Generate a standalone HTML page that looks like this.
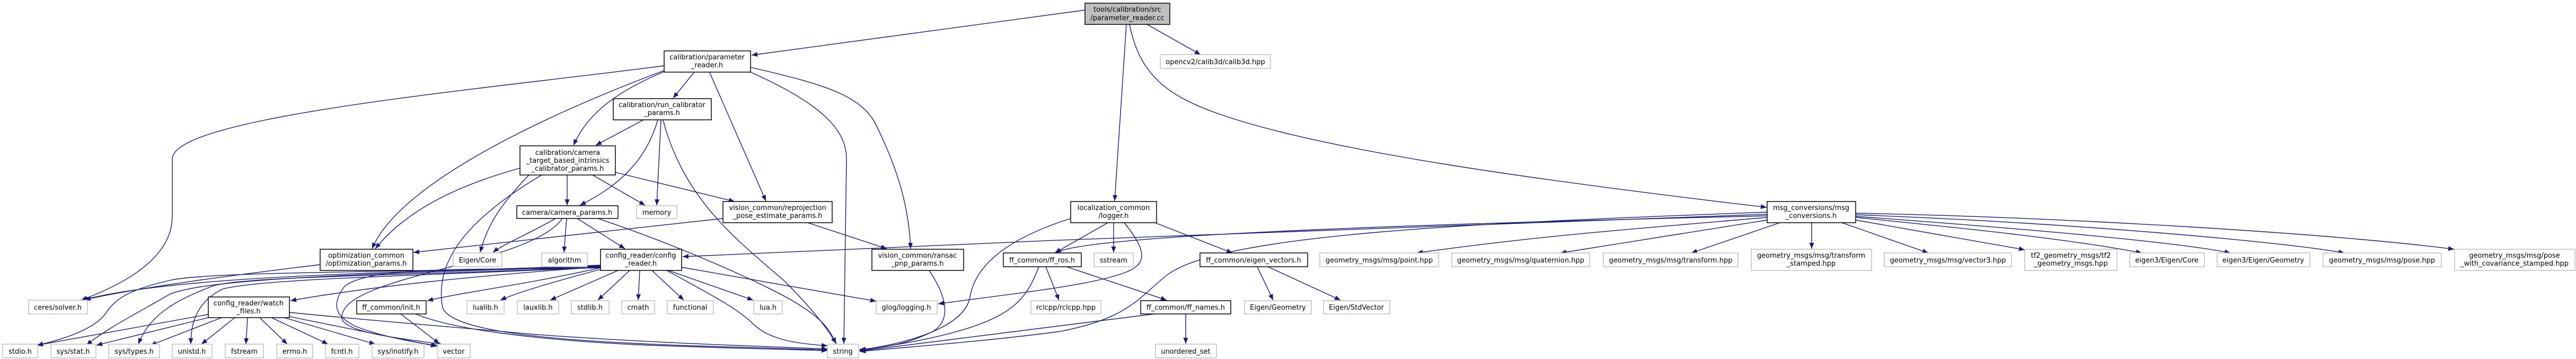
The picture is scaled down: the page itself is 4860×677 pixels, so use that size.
<!DOCTYPE html>
<html><head><meta charset="utf-8"><style>
html,body{margin:0;padding:0;background:#fff;width:4860px;height:677px;overflow:hidden}
svg{display:block}
text{font-family:"DejaVu Sans","Liberation Sans",sans-serif;font-size:13px;fill:#000;text-anchor:middle}
.e{fill:none;stroke:#191970;stroke-width:1.4;marker-end:url(#a)}
.n{fill:#fff;stroke:#000;stroke-width:1.5}
.x{fill:#fff;stroke:#bfbfbf;stroke-width:1.5}
.g{fill:#bfbfbf;stroke:#000;stroke-width:1.5}
</style></head><body>
<svg width="4860" height="677" viewBox="0 0 4860 677" xmlns="http://www.w3.org/2000/svg">
<defs><marker id="a" markerUnits="userSpaceOnUse" markerWidth="12" markerHeight="10" refX="11" refY="4.5" orient="auto"><path d="M0,0 L11,4.5 L0,9 z" fill="#191970"/></marker></defs>
<g>
<!-- P0 -->
<path class="e" d="M2047,19 L1418,104"/>
<path class="e" d="M2164,46 L2265,103"/>
<path class="e" d="M2125,47 L2103,379"/>
<path class="e" d="M2131,46 C2150,140 2200,180 2300,215 C2500,285 2900,340 3333,391"/>
<!-- PR -->
<path class="e" d="M1253,124 C900,170 325,220 325,300 L325,408 C325,480 250,530 153,566"/>
<path class="e" d="M1253,133 C1100,190 760,330 702,469"/>
<path class="e" d="M1253,135 C1170,170 1110,210 1082,274"/>
<path class="e" d="M1309,137 L1270,185"/>
<path class="e" d="M1339,137 L1445,379"/>
<path class="e" d="M1416,136 C1560,200 1597,250 1597,300 L1592,648"/>
<path class="e" d="M1416,127 C1560,160 1620,180 1650,230 C1700,330 1715,400 1718,469"/>
<!-- RC -->
<path class="e" d="M1214,226 L1124,274"/>
<path class="e" d="M1241,226 C1220,300 1170,350 1094,387"/>
<path class="e" d="M1247,226 L1239,387"/>
<path class="e" d="M1251,226 C1290,380 1400,460 1480,530 C1540,590 1560,620 1578,648"/>
<!-- CT -->
<path class="e" d="M981,317 C900,340 780,380 708,469"/>
<path class="e" d="M998,330 C950,380 920,420 906,476"/>
<path class="e" d="M1070,330 L1070,387"/>
<path class="e" d="M1118,330 L1217,387"/>
<path class="e" d="M1161,325 L1386,380"/>
<path class="e" d="M1022,330 C870,420 820,500 835,580 C860,650 1300,650 1561,660"/>
<!-- CP -->
<path class="e" d="M1048,412 C1000,440 950,460 930,476"/>
<path class="e" d="M1069,412 L1064,476"/>
<path class="e" d="M1089,412 L1179,469"/>
<path class="e" d="M1128,412 C1300,470 1450,540 1500,570 C1550,600 1565,620 1577,648"/>
<path class="e" d="M1061,412 C1000,500 640,520 645,600 C650,630 780,640 835,650"/>
<!-- RP -->
<path class="e" d="M1364,412 L780,476"/>
<path class="e" d="M1524,420 L1673,469"/>
<!-- LOG -->
<path class="e" d="M2090,420 L1990,477"/>
<path class="e" d="M2101,420 L2101,476"/>
<path class="e" d="M2179,420 L2325,477"/>
<path class="e" d="M2121,420 C2170,480 2160,500 2120,515 C2050,540 1900,555 1770,573"/>
<path class="e" d="M2020,412 C1900,450 1840,500 1830,560 C1820,620 1700,650 1622,660"/>
<!-- FFR -->
<path class="e" d="M1973,503 L1998,566"/>
<path class="e" d="M2000,499 L2201,566"/>
<path class="e" d="M1960,503 C1930,580 1900,620 1622,661"/>
<path class="e" d="M2178,592 L1622,662"/>
<path class="e" d="M2237,592 L2237,648"/>
<path class="e" d="M2372,503 L2402,566"/>
<path class="e" d="M2392,503 L2529,566"/>
<!-- MSG -->
<path class="e" d="M3334,404 C3000,414 2000,450 1288,484"/>
<path class="e" d="M3334,407 C2800,420 2050,440 1991,477"/>
<path class="e" d="M3334,400 C2800,420 2300,440 2200,520 C2150,560 2130,600 2000,625 C1850,645 1700,655 1622,663"/>
<path class="e" d="M3334,410 C3100,430 2900,445 2673,477"/>
<path class="e" d="M3334,415 L2944,477"/>
<path class="e" d="M3358,420 L3191,477"/>
<path class="e" d="M3418,420 L3418,469"/>
<path class="e" d="M3475,420 L3638,477"/>
<path class="e" d="M3501,415 L3820,471"/>
<path class="e" d="M3501,410 C3700,430 3900,450 4041,477"/>
<path class="e" d="M3501,408 C3800,430 4100,455 4208,477"/>
<path class="e" d="M3501,405 C3900,420 4300,455 4423,477"/>
<path class="e" d="M3501,402 C3900,410 4400,440 4630,470"/>
<!-- CR -->
<path class="e" d="M1166,510 L1038,566"/>
<path class="e" d="M1188,510 L1128,566"/>
<path class="e" d="M1207,510 L1204,566"/>
<path class="e" d="M1230,510 L1290,566"/>
<path class="e" d="M1261,510 L1421,566"/>
<path class="e" d="M1286,504 L1653,568"/>
<path class="e" d="M1258,510 C1330,550 1390,580 1420,610 C1450,640 1500,648 1561,652"/>
<path class="e" d="M1133,508 C1050,530 980,550 944,566"/>
<path class="e" d="M1133,505 C1000,535 880,550 806,567"/>
<path class="e" d="M1133,503 C900,520 700,540 548,567"/>
<path class="e" d="M1133,500 C800,515 350,515 155,566"/>
<path class="e" d="M604,499 C500,512 300,535 160,565"/>
<path class="e" d="M1133,501 C800,515 400,510 319,529 C250,545 220,560 200,590 C180,620 120,640 70,651"/>
<path class="e" d="M1133,502 C800,515 400,520 320,555 C260,590 200,620 163,651"/>
<path class="e" d="M1133,503 C800,520 450,520 400,540 C320,570 280,600 261,649"/>
<path class="e" d="M1133,504 C800,520 500,525 420,545 C370,570 360,610 360,649"/>
<path class="e" d="M1133,505 C900,510 700,500 650,540 C620,580 640,600 670,615 C720,635 780,645 825,652"/>
<!-- WF -->
<path class="e" d="M393,593 L70,651"/>
<path class="e" d="M393,599 L182,651"/>
<path class="e" d="M418,599 L284,651"/>
<path class="e" d="M443,599 L380,649"/>
<path class="e" d="M467,599 L464,649"/>
<path class="e" d="M490,599 L542,649"/>
<path class="e" d="M512,599 L619,649"/>
<path class="e" d="M536,599 L708,649"/>
<path class="e" d="M546,597 L824,653"/>
<path class="e" d="M546,589 C700,605 900,620 1000,630 C1200,645 1400,652 1561,658"/>
<path class="e" d="M756,592 L829,648"/>
<path class="e" d="M784,592 C850,620 1000,640 1200,650 C1350,656 1480,659 1561,661"/>
<path class="e" d="M1753,510 C1780,550 1800,600 1760,625 C1720,645 1680,655 1622,659"/>
</g>
<!-- nodes -->
<g>
<rect class="g" x="2047" y="6" width="160" height="40"/><text x="2127" y="22">tools/calibration/src</text><text x="2127" y="38">/parameter_reader.cc</text>
<rect class="n" x="1253" y="96" width="163" height="40"/><text x="1334" y="112">calibration/parameter</text><text x="1334" y="127">_reader.h</text>
<rect class="x" x="2189" y="103" width="208" height="26"/><text x="2293" y="121">opencv2/calib3d/calib3d.hpp</text>
<rect class="n" x="1157" y="186" width="185" height="40"/><text x="1249" y="202">calibration/run_calibrator</text><text x="1249" y="217">_params.h</text>
<rect class="n" x="981" y="275" width="180" height="55"/><text x="1071" y="292">calibration/camera</text><text x="1071" y="307">_target_based_intrinsics</text><text x="1071" y="322">_calibrator_params.h</text>
<rect class="n" x="975" y="388" width="191" height="24"/><text x="1070" y="405">camera/camera_params.h</text>
<rect class="x" x="1201" y="388" width="76" height="24"/><text x="1239" y="405">memory</text>
<rect class="n" x="1364" y="380" width="206" height="40"/><text x="1467" y="396">vision_common/reprojection</text><text x="1467" y="411">_pose_estimate_params.h</text>
<rect class="n" x="2020" y="380" width="162" height="40"/><text x="2101" y="396">localization_common</text><text x="2101" y="411">/logger.h</text>
<rect class="n" x="3334" y="380" width="167" height="40"/><text x="3417" y="396">msg_conversions/msg</text><text x="3417" y="411">_conversions.h</text>
<rect class="n" x="604" y="470" width="175" height="40"/><text x="691" y="486">optimization_common</text><text x="691" y="501">/optimization_params.h</text>
<rect class="x" x="855" y="477" width="92" height="26"/><text x="901" y="495">Eigen/Core</text>
<rect class="x" x="1022" y="477" width="86" height="26"/><text x="1065" y="495">algorithm</text>
<rect class="n" x="1133" y="470" width="153" height="40"/><text x="1209" y="486">config_reader/config</text><text x="1209" y="501">_reader.h</text>
<rect class="n" x="1645" y="470" width="173" height="40"/><text x="1731" y="486">vision_common/ransac</text><text x="1731" y="501">_pnp_params.h</text>
<rect class="n" x="1893" y="477" width="147" height="26"/><text x="1966" y="495">ff_common/ff_ros.h</text>
<rect class="x" x="2064" y="477" width="74" height="26"/><text x="2101" y="495">sstream</text>
<rect class="n" x="2264" y="477" width="203" height="26"/><text x="2365" y="495">ff_common/eigen_vectors.h</text>
<rect class="x" x="2490" y="477" width="224" height="26"/><text x="2602" y="495">geometry_msgs/msg/point.hpp</text>
<rect class="x" x="2739" y="477" width="260" height="26"/><text x="2869" y="495">geometry_msgs/msg/quaternion.hpp</text>
<rect class="x" x="3025" y="477" width="254" height="26"/><text x="3152" y="495">geometry_msgs/msg/transform.hpp</text>
<rect class="x" x="3304" y="470" width="227" height="40"/><text x="3417" y="486">geometry_msgs/msg/transform</text><text x="3417" y="501">_stamped.hpp</text>
<rect class="x" x="3555" y="477" width="240" height="26"/><text x="3675" y="495">geometry_msgs/msg/vector3.hpp</text>
<rect class="x" x="3820" y="470" width="174" height="40"/><text x="3907" y="486">tf2_geometry_msgs/tf2</text><text x="3907" y="501">_geometry_msgs.hpp</text>
<rect class="x" x="4018" y="477" width="141" height="26"/><text x="4088" y="495">eigen3/Eigen/Core</text>
<rect class="x" x="4183" y="477" width="175" height="26"/><text x="4270" y="495">eigen3/Eigen/Geometry</text>
<rect class="x" x="4383" y="477" width="223" height="26"/><text x="4494" y="495">geometry_msgs/msg/pose.hpp</text>
<rect class="x" x="4631" y="470" width="227" height="40"/><text x="4744" y="486">geometry_msgs/msg/pose</text><text x="4744" y="501">_with_covariance_stamped.hpp</text>
<rect class="x" x="54" y="566" width="111" height="26"/><text x="109" y="584">ceres/solver.h</text>
<rect class="n" x="393" y="560" width="153" height="39"/><text x="469" y="576">config_reader/watch</text><text x="469" y="591">_files.h</text>
<rect class="n" x="673" y="567" width="131" height="25"/><text x="738" y="584">ff_common/init.h</text>
<rect class="x" x="881" y="567" width="70" height="25"/><text x="916" y="584">lualib.h</text>
<rect class="x" x="976" y="567" width="78" height="25"/><text x="1015" y="584">lauxlib.h</text>
<rect class="x" x="1078" y="567" width="71" height="25"/><text x="1113" y="584">stdlib.h</text>
<rect class="x" x="1173" y="567" width="62" height="25"/><text x="1204" y="584">cmath</text>
<rect class="x" x="1259" y="567" width="87" height="25"/><text x="1302" y="584">functional</text>
<rect class="x" x="1422" y="567" width="54" height="25"/><text x="1449" y="584">lua.h</text>
<rect class="x" x="1653" y="567" width="115" height="25"/><text x="1710" y="584">glog/logging.h</text>
<rect class="x" x="1945" y="567" width="132" height="25"/><text x="2011" y="584">rclcpp/rclcpp.hpp</text>
<rect class="n" x="2152" y="567" width="170" height="25"/><text x="2237" y="584">ff_common/ff_names.h</text>
<rect class="x" x="2348" y="567" width="126" height="25"/><text x="2411" y="584">Eigen/Geometry</text>
<rect class="x" x="2497" y="567" width="125" height="25"/><text x="2559" y="584">Eigen/StdVector</text>
<rect class="x" x="5" y="649" width="66" height="26"/><text x="38" y="667">stdio.h</text>
<rect class="x" x="96" y="649" width="85" height="26"/><text x="138" y="667">sys/stat.h</text>
<rect class="x" x="205" y="649" width="96" height="26"/><text x="253" y="667">sys/types.h</text>
<rect class="x" x="325" y="649" width="75" height="26"/><text x="362" y="667">unistd.h</text>
<rect class="x" x="425" y="649" width="72" height="26"/><text x="461" y="667">fstream</text>
<rect class="x" x="522" y="649" width="68" height="26"/><text x="556" y="667">errno.h</text>
<rect class="x" x="614" y="649" width="63" height="26"/><text x="645" y="667">fcntl.h</text>
<rect class="x" x="702" y="649" width="98" height="26"/><text x="751" y="667">sys/inotify.h</text>
<rect class="x" x="825" y="649" width="62" height="26"/><text x="856" y="667">vector</text>
<rect class="x" x="1561" y="649" width="59" height="26"/><text x="1590" y="667">string</text>
<rect class="x" x="2180" y="649" width="115" height="26"/><text x="2237" y="667">unordered_set</text>
</g>
</svg>
</body></html>
